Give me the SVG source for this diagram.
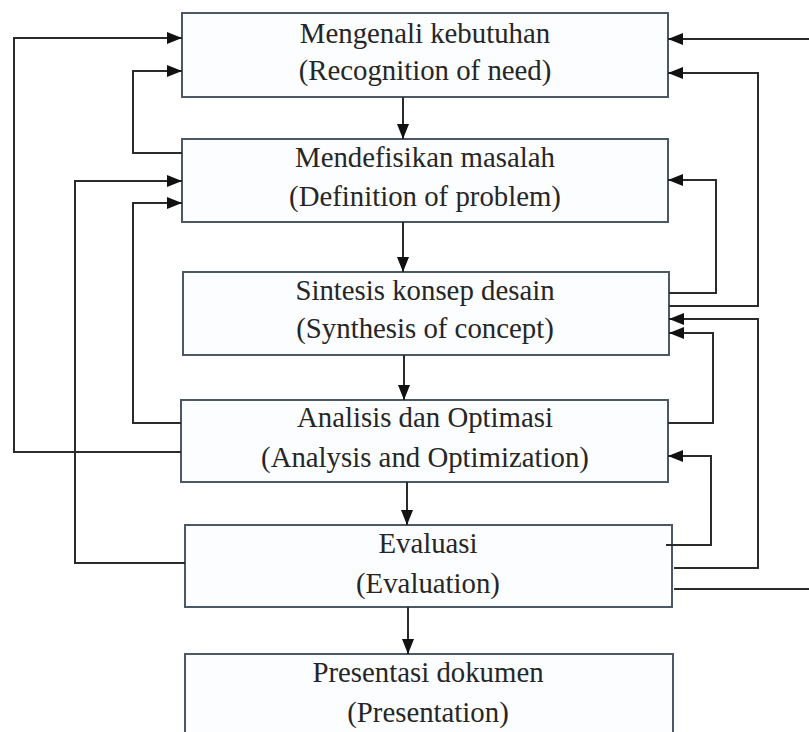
<svg xmlns="http://www.w3.org/2000/svg" width="809" height="732" viewBox="0 0 809 732">
<defs>
<marker id="ah" viewBox="0 0 15 12" refX="15" refY="6" markerWidth="15" markerHeight="12" markerUnits="userSpaceOnUse" orient="auto">
<path d="M0,0 L15,6 L0,12 Z" fill="#111"/>
</marker>
</defs>
<style>
.box{fill:#fcfdff;stroke:#4d5866;stroke-width:2}
.t{font-family:"Liberation Serif","Times New Roman",serif;font-size:28.8px;fill:#262626;text-anchor:middle}
.c{fill:none;stroke:#2b2b2b;stroke-width:2}
</style>
<rect width="809" height="732" fill="#ffffff"/>
<g id="n1"><rect class="box" x="182" y="13" width="486" height="84"/><text class="t" x="425" y="43">Mengenali kebutuhan</text><text class="t" x="425" y="80">(Recognition of need)</text></g>
<g id="n2"><rect class="box" x="182" y="139" width="486" height="83"/><text class="t" x="425" y="167">Mendefisikan masalah</text><text class="t" x="425" y="206">(Definition of problem)</text></g>
<g id="n3"><rect class="box" x="183" y="272" width="486" height="83"/><text class="t" x="425" y="300">Sintesis konsep desain</text><text class="t" x="425" y="338">(Synthesis of concept)</text></g>
<g id="n4"><rect class="box" x="181" y="400" width="487" height="82"/><text class="t" x="425" y="427">Analisis dan Optimasi</text><text class="t" x="425" y="467">(Analysis and Optimization)</text></g>
<g id="n5"><rect class="box" x="185" y="525" width="487" height="82"/><text class="t" x="428" y="553">Evaluasi</text><text class="t" x="428" y="593">(Evaluation)</text></g>
<g id="n6"><rect class="box" x="185" y="654" width="488" height="90"/><text class="t" x="428" y="682">Presentasi dokumen</text><text class="t" x="428" y="722">(Presentation)</text></g>
<g id="connectors">
<path class="c" d="M403,97 V139" marker-end="url(#ah)"/>
<path class="c" d="M403,222 V272" marker-end="url(#ah)"/>
<path class="c" d="M404,355 V400" marker-end="url(#ah)"/>
<path class="c" d="M407,482 V525" marker-end="url(#ah)"/>
<path class="c" d="M408,607 V654" marker-end="url(#ah)"/>
<path class="c" d="M181,452 H14 V38 H182" marker-end="url(#ah)"/>
<path class="c" d="M182,153 H133 V71 H182" marker-end="url(#ah)"/>
<path class="c" d="M185,563 H75 V181 H182" marker-end="url(#ah)"/>
<path class="c" d="M181,423 H133 V203 H182" marker-end="url(#ah)"/>
<path class="c" d="M809,39 H668" marker-end="url(#ah)"/>
<path class="c" d="M674,589 H809"/>
<path class="c" d="M669,306 H758 V73 H668" marker-end="url(#ah)"/>
<path class="c" d="M669,293 H716 V180 H668" marker-end="url(#ah)"/>
<path class="c" d="M674,568 H758 V319 H669" marker-end="url(#ah)"/>
<path class="c" d="M668,423 H713 V333 H669" marker-end="url(#ah)"/>
<path class="c" d="M666,545 H711 V456 H668" marker-end="url(#ah)"/>
</g>
</svg>
